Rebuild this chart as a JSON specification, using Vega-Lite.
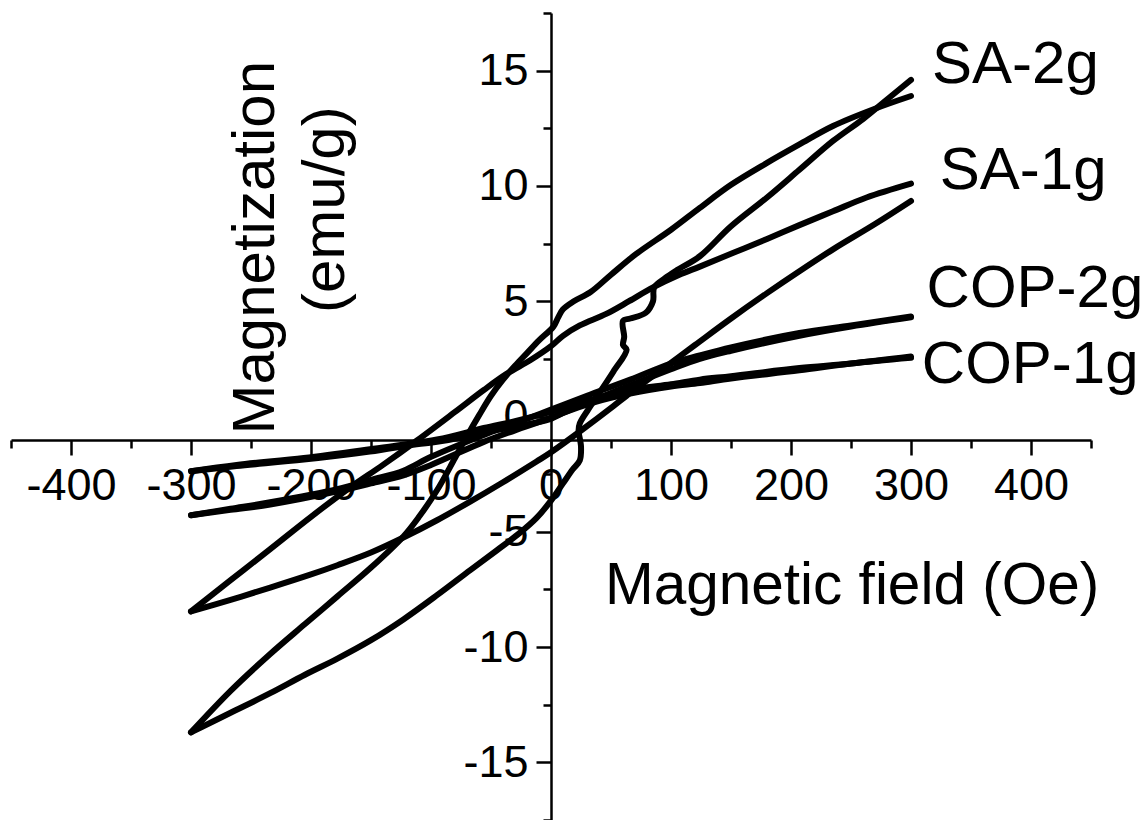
{
  "$schema": "https://vega.github.io/schema/vega-lite/v6.json",
  "width": 1080,
  "height": 807,
  "autosize": {"type": "none"},
  "padding": {"left": 11, "top": 13, "right": 57, "bottom": 0},
  "background": "white",
  "config": {
    "view": {"stroke": null},
    "axis": {
      "domainColor": "black", "domainWidth": 2.5, "tickColor": "black", "tickWidth": 2.5,
      "labelFont": "Liberation Sans", "labelFontSize": 45, "labelColor": "black",
      "grid": false, "labelPadding": 8, "labelOverlap": false, "labelFlush": false
    }
  },
  "layer": [
    {
      "data": {"values": [
        {"s":"SA2a","i":1,"h":-300,"m":-13.7},{"s":"SA2a","i":2,"h":-267,"m":-12.85},{"s":"SA2a","i":3,"h":-234,"m":-12.0},{"s":"SA2a","i":4,"h":-205,"m":-11.2},{"s":"SA2a","i":5,"h":-178,"m":-10.5},{"s":"SA2a","i":6,"h":-150,"m":-9.7},{"s":"SA2a","i":7,"h":-123,"m":-8.8},{"s":"SA2a","i":8,"h":-95,"m":-7.75},{"s":"SA2a","i":9,"h":-67,"m":-6.65},{"s":"SA2a","i":10,"h":-45,"m":-5.8},{"s":"SA2a","i":11,"h":-26,"m":-5.05},{"s":"SA2a","i":12,"h":-12,"m":-4.4},{"s":"SA2a","i":13,"h":0,"m":-3.65},{"s":"SA2a","i":14,"h":10,"m":-2.9},{"s":"SA2a","i":15,"h":18,"m":-2.3},{"s":"SA2a","i":16,"h":24,"m":-1.9},{"s":"SA2a","i":17,"h":25,"m":-1.3},{"s":"SA2a","i":18,"h":23,"m":-0.6},{"s":"SA2a","i":19,"h":24,"m":-0.3},{"s":"SA2a","i":20,"h":31,"m":0.3},{"s":"SA2a","i":21,"h":40,"m":1.0},{"s":"SA2a","i":22,"h":52,"m":1.95},{"s":"SA2a","i":23,"h":63,"m":2.9},{"s":"SA2a","i":24,"h":60,"m":3.1},{"s":"SA2a","i":25,"h":61,"m":3.45},{"s":"SA2a","i":26,"h":60,"m":4.15},{"s":"SA2a","i":27,"h":66,"m":4.25},{"s":"SA2a","i":28,"h":79,"m":4.5},{"s":"SA2a","i":29,"h":85,"m":5.0},{"s":"SA2a","i":30,"h":86,"m":5.6},{"s":"SA2a","i":31,"h":95,"m":6.0},{"s":"SA2a","i":32,"h":105,"m":6.35},{"s":"SA2a","i":33,"h":124,"m":6.95},{"s":"SA2a","i":34,"h":150,"m":8.25},{"s":"SA2a","i":35,"h":180,"m":9.5},{"s":"SA2a","i":36,"h":207,"m":10.7},{"s":"SA2a","i":37,"h":235,"m":11.95},{"s":"SA2a","i":38,"h":260,"m":12.9},{"s":"SA2a","i":39,"h":280,"m":13.75},{"s":"SA2a","i":40,"h":300,"m":14.6},
        {"s":"SA2d","i":1,"h":300,"m":13.9},{"s":"SA2d","i":2,"h":270,"m":13.35},{"s":"SA2d","i":3,"h":235,"m":12.6},{"s":"SA2d","i":4,"h":207,"m":11.8},{"s":"SA2d","i":5,"h":180,"m":11.0},{"s":"SA2d","i":6,"h":150,"m":10.05},{"s":"SA2d","i":7,"h":124,"m":9.05},{"s":"SA2d","i":8,"h":100,"m":8.1},{"s":"SA2d","i":9,"h":71,"m":7.05},{"s":"SA2d","i":10,"h":50,"m":6.15},{"s":"SA2d","i":11,"h":33,"m":5.4},{"s":"SA2d","i":12,"h":19,"m":5.0},{"s":"SA2d","i":13,"h":10,"m":4.65},{"s":"SA2d","i":14,"h":6,"m":4.3},{"s":"SA2d","i":15,"h":2,"m":3.9},{"s":"SA2d","i":16,"h":-10,"m":3.3},{"s":"SA2d","i":17,"h":-20,"m":2.75},{"s":"SA2d","i":18,"h":-30,"m":2.2},{"s":"SA2d","i":19,"h":-40,"m":1.6},{"s":"SA2d","i":20,"h":-50,"m":0.9},{"s":"SA2d","i":21,"h":-60,"m":0.05},{"s":"SA2d","i":22,"h":-70,"m":-0.85},{"s":"SA2d","i":23,"h":-80,"m":-1.8},{"s":"SA2d","i":24,"h":-95,"m":-3.2},{"s":"SA2d","i":25,"h":-110,"m":-4.35},{"s":"SA2d","i":26,"h":-123,"m":-5.2},{"s":"SA2d","i":27,"h":-150,"m":-6.55},{"s":"SA2d","i":28,"h":-178,"m":-7.8},{"s":"SA2d","i":29,"h":-205,"m":-9.0},{"s":"SA2d","i":30,"h":-234,"m":-10.3},{"s":"SA2d","i":31,"h":-267,"m":-11.9},{"s":"SA2d","i":32,"h":-300,"m":-13.7},
        {"s":"SA1d","i":1,"h":300,"m":10.1},{"s":"SA1d","i":2,"h":263,"m":9.5},{"s":"SA1d","i":3,"h":235,"m":8.9},{"s":"SA1d","i":4,"h":207,"m":8.3},{"s":"SA1d","i":5,"h":180,"m":7.7},{"s":"SA1d","i":6,"h":152,"m":7.1},{"s":"SA1d","i":7,"h":124,"m":6.5},{"s":"SA1d","i":8,"h":107,"m":6.15},{"s":"SA1d","i":9,"h":85,"m":5.6},{"s":"SA1d","i":10,"h":65,"m":5.0},{"s":"SA1d","i":11,"h":46,"m":4.45},{"s":"SA1d","i":12,"h":24,"m":3.95},{"s":"SA1d","i":13,"h":10,"m":3.5},{"s":"SA1d","i":14,"h":0,"m":3.05},{"s":"SA1d","i":15,"h":-17,"m":2.45},{"s":"SA1d","i":16,"h":-37,"m":1.85},{"s":"SA1d","i":17,"h":-56,"m":1.15},{"s":"SA1d","i":18,"h":-80,"m":0.2},{"s":"SA1d","i":19,"h":-112,"m":-1.05},{"s":"SA1d","i":20,"h":-140,"m":-2.1},{"s":"SA1d","i":21,"h":-168,"m":-3.1},{"s":"SA1d","i":22,"h":-200,"m":-4.35},{"s":"SA1d","i":23,"h":-234,"m":-5.75},{"s":"SA1d","i":24,"h":-267,"m":-7.1},{"s":"SA1d","i":25,"h":-300,"m":-8.45},
        {"s":"SA1a","i":1,"h":-300,"m":-8.45},{"s":"SA1a","i":2,"h":-267,"m":-7.95},{"s":"SA1a","i":3,"h":-234,"m":-7.42},{"s":"SA1a","i":4,"h":-200,"m":-6.85},{"s":"SA1a","i":5,"h":-178,"m":-6.45},{"s":"SA1a","i":6,"h":-150,"m":-5.9},{"s":"SA1a","i":7,"h":-123,"m":-5.25},{"s":"SA1a","i":8,"h":-95,"m":-4.5},{"s":"SA1a","i":9,"h":-67,"m":-3.68},{"s":"SA1a","i":10,"h":-40,"m":-2.85},{"s":"SA1a","i":11,"h":-12,"m":-1.95},{"s":"SA1a","i":12,"h":0,"m":-1.55},{"s":"SA1a","i":13,"h":24,"m":-0.65},{"s":"SA1a","i":14,"h":52,"m":0.45},{"s":"SA1a","i":15,"h":63,"m":0.9},{"s":"SA1a","i":16,"h":94,"m":2.1},{"s":"SA1a","i":17,"h":120,"m":3.1},{"s":"SA1a","i":18,"h":150,"m":4.25},{"s":"SA1a","i":19,"h":180,"m":5.35},{"s":"SA1a","i":20,"h":207,"m":6.3},{"s":"SA1a","i":21,"h":235,"m":7.25},{"s":"SA1a","i":22,"h":270,"m":8.35},{"s":"SA1a","i":23,"h":300,"m":9.35},
        {"s":"COP2d","i":1,"h":300,"m":4.34},{"s":"COP2d","i":2,"h":250,"m":3.95},{"s":"COP2d","i":3,"h":207,"m":3.62},{"s":"COP2d","i":4,"h":150,"m":3.0},{"s":"COP2d","i":5,"h":124,"m":2.65},{"s":"COP2d","i":6,"h":100,"m":2.3},{"s":"COP2d","i":7,"h":66,"m":1.6},{"s":"COP2d","i":8,"h":30,"m":0.9},{"s":"COP2d","i":9,"h":0,"m":0.3},{"s":"COP2d","i":10,"h":-30,"m":-0.3},{"s":"COP2d","i":11,"h":-56,"m":-0.8},{"s":"COP2d","i":12,"h":-100,"m":-1.75},{"s":"COP2d","i":13,"h":-123,"m":-2.35},{"s":"COP2d","i":14,"h":-150,"m":-2.75},{"s":"COP2d","i":15,"h":-178,"m":-3.15},{"s":"COP2d","i":16,"h":-234,"m":-3.72},{"s":"COP2d","i":17,"h":-267,"m":-4.0},{"s":"COP2d","i":18,"h":-300,"m":-4.28},
        {"s":"COP2a","i":1,"h":-300,"m":-4.28},{"s":"COP2a","i":2,"h":-267,"m":-4.05},{"s":"COP2a","i":3,"h":-234,"m":-3.82},{"s":"COP2a","i":4,"h":-178,"m":-3.25},{"s":"COP2a","i":5,"h":-150,"m":-2.9},{"s":"COP2a","i":6,"h":-123,"m":-2.55},{"s":"COP2a","i":7,"h":-100,"m":-2.1},{"s":"COP2a","i":8,"h":-56,"m":-1.1},{"s":"COP2a","i":9,"h":-30,"m":-0.6},{"s":"COP2a","i":10,"h":0,"m":-0.05},{"s":"COP2a","i":11,"h":30,"m":0.6},{"s":"COP2a","i":12,"h":66,"m":1.35},{"s":"COP2a","i":13,"h":100,"m":2.05},{"s":"COP2a","i":14,"h":124,"m":2.5},{"s":"COP2a","i":15,"h":150,"m":2.85},{"s":"COP2a","i":16,"h":207,"m":3.5},{"s":"COP2a","i":17,"h":250,"m":3.9},{"s":"COP2a","i":18,"h":300,"m":4.3},
        {"s":"COP1d","i":1,"h":300,"m":2.6},{"s":"COP1d","i":2,"h":250,"m":2.3},{"s":"COP1d","i":3,"h":207,"m":2.1},{"s":"COP1d","i":4,"h":150,"m":1.75},{"s":"COP1d","i":5,"h":124,"m":1.6},{"s":"COP1d","i":6,"h":100,"m":1.4},{"s":"COP1d","i":7,"h":66,"m":1.15},{"s":"COP1d","i":8,"h":38,"m":0.8},{"s":"COP1d","i":9,"h":10,"m":0.35},{"s":"COP1d","i":10,"h":0,"m":0.2},{"s":"COP1d","i":11,"h":-30,"m":-0.2},{"s":"COP1d","i":12,"h":-56,"m":-0.5},{"s":"COP1d","i":13,"h":-95,"m":-1.0},{"s":"COP1d","i":14,"h":-151,"m":-1.42},{"s":"COP1d","i":15,"h":-206,"m":-1.8},{"s":"COP1d","i":16,"h":-262,"m":-2.1},{"s":"COP1d","i":17,"h":-300,"m":-2.37},
        {"s":"COP1a","i":1,"h":-300,"m":-2.37},{"s":"COP1a","i":2,"h":-262,"m":-2.15},{"s":"COP1a","i":3,"h":-206,"m":-1.87},{"s":"COP1a","i":4,"h":-151,"m":-1.52},{"s":"COP1a","i":5,"h":-112,"m":-1.2},{"s":"COP1a","i":6,"h":-95,"m":-1.1},{"s":"COP1a","i":7,"h":-56,"m":-0.7},{"s":"COP1a","i":8,"h":-17,"m":-0.31},{"s":"COP1a","i":9,"h":0,"m":-0.1},{"s":"COP1a","i":10,"h":10,"m":0.15},{"s":"COP1a","i":11,"h":38,"m":0.65},{"s":"COP1a","i":12,"h":66,"m":1.0},{"s":"COP1a","i":13,"h":100,"m":1.3},{"s":"COP1a","i":14,"h":124,"m":1.45},{"s":"COP1a","i":15,"h":150,"m":1.65},{"s":"COP1a","i":16,"h":207,"m":2.0},{"s":"COP1a","i":17,"h":250,"m":2.3},{"s":"COP1a","i":18,"h":300,"m":2.55}
      ]},
      "mark": {"type": "line", "color": "black", "strokeWidth": 6, "strokeCap": "round", "strokeJoin": "round", "interpolate": "catmull-rom"},
      "encoding": {
        "x": {"field": "h", "type": "quantitative",
          "scale": {"domain": [-450, 450], "nice": false, "zero": false},
          "axis": {"orient": "bottom", "offset": -380, "title": null,
            "values": [-450,-400,-350,-300,-250,-200,-150,-100,-50,0,50,100,150,200,250,300,350,400,450],
            "labelExpr": "datum.value % 100 === 0 ? '' + datum.value : ''",
            "tickSize": {"condition": {"test": "datum.value % 100 === 0", "value": 15}, "value": 8}}},
        "y": {"field": "m", "type": "quantitative",
          "scale": {"domain": [-17.5, 17.5], "nice": false, "zero": false},
          "axis": {"orient": "left", "offset": -540, "title": null,
            "values": [-17.5,-15,-12.5,-10,-7.5,-5,-2.5,0,2.5,5,7.5,10,12.5,15,17.5],
            "labelExpr": "datum.value % 5 === 0 ? '' + datum.value : ''",
            "tickSize": {"condition": {"test": "datum.value % 5 === 0", "value": 15}, "value": 8}}},
        "detail": {"field": "s"},
        "order": {"field": "i", "type": "quantitative"}
      }
    },
    {
      "data": {"values": [
        {"t": "SA-2g", "h": 317.5, "m": 14.47},
        {"t": "SA-1g", "h": 324, "m": 9.88},
        {"t": "COP-2g", "h": 313, "m": 4.73},
        {"t": "COP-1g", "h": 309, "m": 1.44}
      ]},
      "mark": {"type": "text", "font": "Liberation Sans", "fontSize": 60, "align": "left", "baseline": "alphabetic", "color": "black"},
      "encoding": {
        "x": {"field": "h", "type": "quantitative"},
        "y": {"field": "m", "type": "quantitative"},
        "text": {"field": "t"}
      }
    },
    {
      "data": {"values": [
        {"t": "Magnetic field (Oe)", "h": 45, "m": -8.13}
      ]},
      "mark": {"type": "text", "font": "Liberation Sans", "fontSize": 58.5, "align": "left", "baseline": "alphabetic", "color": "black"},
      "encoding": {
        "x": {"field": "h", "type": "quantitative"},
        "y": {"field": "m", "type": "quantitative"},
        "text": {"field": "t"}
      }
    },
    {
      "data": {"values": [
        {"t": "Magnetization", "h": -230.5, "m": 7.32},
        {"t": "(emu/g)", "h": -172.5, "m": 8.97}
      ]},
      "mark": {"type": "text", "font": "Liberation Sans", "fontSize": 60, "align": "center", "baseline": "alphabetic", "angle": 270, "color": "black"},
      "encoding": {
        "x": {"field": "h", "type": "quantitative"},
        "y": {"field": "m", "type": "quantitative"},
        "text": {"field": "t"}
      }
    }
  ]
}
